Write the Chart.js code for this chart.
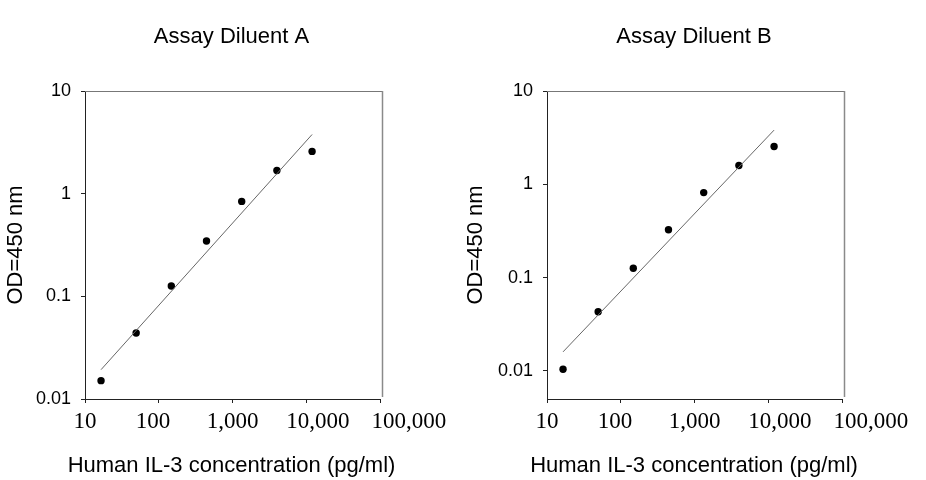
<!DOCTYPE html>
<html>
<head>
<meta charset="utf-8">
<script src="https://cdn.jsdelivr.net/npm/chart.js@4"></script>
<style>
  body { margin: 0; background: #fff; width: 926px; height: 480px; position: relative; overflow: hidden; }
  canvas { position: absolute; top: 0; }
</style>
</head>
<body>
<canvas id="chartA" width="463" height="480" style="left:0px;width:463px;height:480px"></canvas>
<canvas id="chartB" width="464" height="480" style="left:462px;width:464px;height:480px"></canvas>
<script>
// standard curve, human IL-3 (pg/ml) vs OD 450 nm
const concentrations = [16.5, 49.4, 148, 444, 1333, 4000, 12000];
const odDiluentA = [0.0151, 0.0439, 0.126, 0.346, 0.841, 1.68, 2.58];
const odDiluentB = [0.0104, 0.0431, 0.126, 0.326, 0.815, 1.59, 2.54];

// fitted line end points
const fitX = [16.5, 12000];
const fitA = [0.0193, 3.77];
const fitB = [0.016, 3.81];

const xTicks = [10, 100, 1000, 10000, 100000];
const yTicks = [0.01, 0.1, 1, 10];

const sans = "'Liberation Sans', Arial, sans-serif";
const serif = "'Liberation Serif', 'Times New Roman', serif";

// the original's big x labels drift right of their ticks, pad with spaces
const xLabel = (v, i) => {
    const s = Number(v).toLocaleString('en-US');
    if (i === 1) return s + '  ';
    if (i === 3) return '    ' + s;
    if (i === 4) return '          ' + s;
    return s;
};

// top and right sides of the box
const boxLines = {
    id: 'boxLines',
    afterDraw(chart) {
        const { ctx, chartArea: a } = chart;
        ctx.save();
        ctx.strokeStyle = '#777';
        ctx.lineWidth = 1;
        ctx.beginPath();
        ctx.moveTo(a.left, a.top + 0.5);
        ctx.lineTo(a.right + 3, a.top + 0.5);
        ctx.stroke();
        ctx.strokeStyle = '#8a8a8a';
        ctx.lineWidth = 1.5;
        ctx.beginPath();
        ctx.moveTo(a.right + 2.5, a.top);
        ctx.lineTo(a.right + 2.5, a.bottom - 2);
        ctx.stroke();
        ctx.restore();
    }
};

const makeChart = (id, title, od, fit, yMin, rightGap, yTitlePad) => {
    return new Chart(document.getElementById(id), {
        type: 'scatter',
        data: {
            datasets: [
                {
                    label: 'fit',
                    data: fitX.map((x, i) => ({ x: x, y: fit[i] })),
                    showLine: true,
                    borderColor: '#666',
                    borderWidth: 1,
                    pointRadius: 0
                },
                {
                    label: 'OD',
                    data: concentrations.map((x, i) => ({ x: x, y: od[i] })),
                    backgroundColor: '#000',
                    borderColor: '#000',
                    pointRadius: 3.7,
                    pointBorderWidth: 0
                }
            ]
        },
        options: {
            responsive: false,
            animation: false,
            layout: { padding: 0 },
            plugins: {
                legend: { display: false },
                tooltip: { enabled: false },
                title: {
                    display: true,
                    text: title,
                    color: '#000',
                    font: { family: sans, size: 22, weight: 'normal' },
                    padding: { top: 24, bottom: 40.6 }
                },
                // x axis caption is wider than the box, so it goes in the subtitle slot
                subtitle: {
                    display: true,
                    position: 'bottom',
                    text: 'Human IL-3 concentration (pg/ml)',
                    color: '#000',
                    font: { family: sans, size: 22, weight: 'normal' },
                    padding: { top: 4, bottom: 1 }
                }
            },
            scales: {
                x: {
                    type: 'logarithmic',
                    min: 10,
                    max: 100000,
                    afterBuildTicks: (scale) => { scale.ticks = xTicks.map(v => ({ value: v })); },
                    afterFit: (scale) => { scale.height = 49.6; },
                    border: { display: true, color: '#222', width: 1 },
                    grid: { drawOnChartArea: false, drawTicks: true, tickLength: 4, tickColor: '#222' },
                    ticks: {
                        color: '#000',
                        font: { family: serif, size: 23 },
                        padding: 5,
                        maxRotation: 0,
                        autoSkip: false,
                        callback: xLabel
                    }
                },
                y: {
                    type: 'logarithmic',
                    min: yMin,
                    max: 10,
                    afterBuildTicks: (scale) => { scale.ticks = yTicks.map(v => ({ value: v })); },
                    afterFit: (scale) => { scale.width = 85; },
                    border: { display: true, color: '#222', width: 1 },
                    grid: { drawOnChartArea: false, drawTicks: true, tickLength: 4, tickColor: '#222' },
                    ticks: {
                        color: '#000',
                        font: { family: sans, size: 18 },
                        padding: 10,
                        autoSkip: false,
                        callback: (v) => String(v)
                    },
                    title: {
                        display: true,
                        text: 'OD=450 nm',
                        color: '#000',
                        font: { family: sans, size: 22 },
                        padding: { top: yTitlePad, bottom: 0 }
                    }
                },
                // empty axis that only keeps the space right of the box
                gap: {
                    type: 'linear',
                    position: 'right',
                    afterFit: (scale) => { scale.width = rightGap; },
                    border: { display: false },
                    grid: { display: false },
                    ticks: { display: false }
                }
            }
        },
        plugins: [boxLines]
    });
};

makeChart('chartA', 'Assay Diluent A', odDiluentA, fitA, 0.01, 83, 3);
makeChart('chartB', 'Assay Diluent B', odDiluentB, fitB, 0.005, 84, 1);
</script>
</body>
</html>
